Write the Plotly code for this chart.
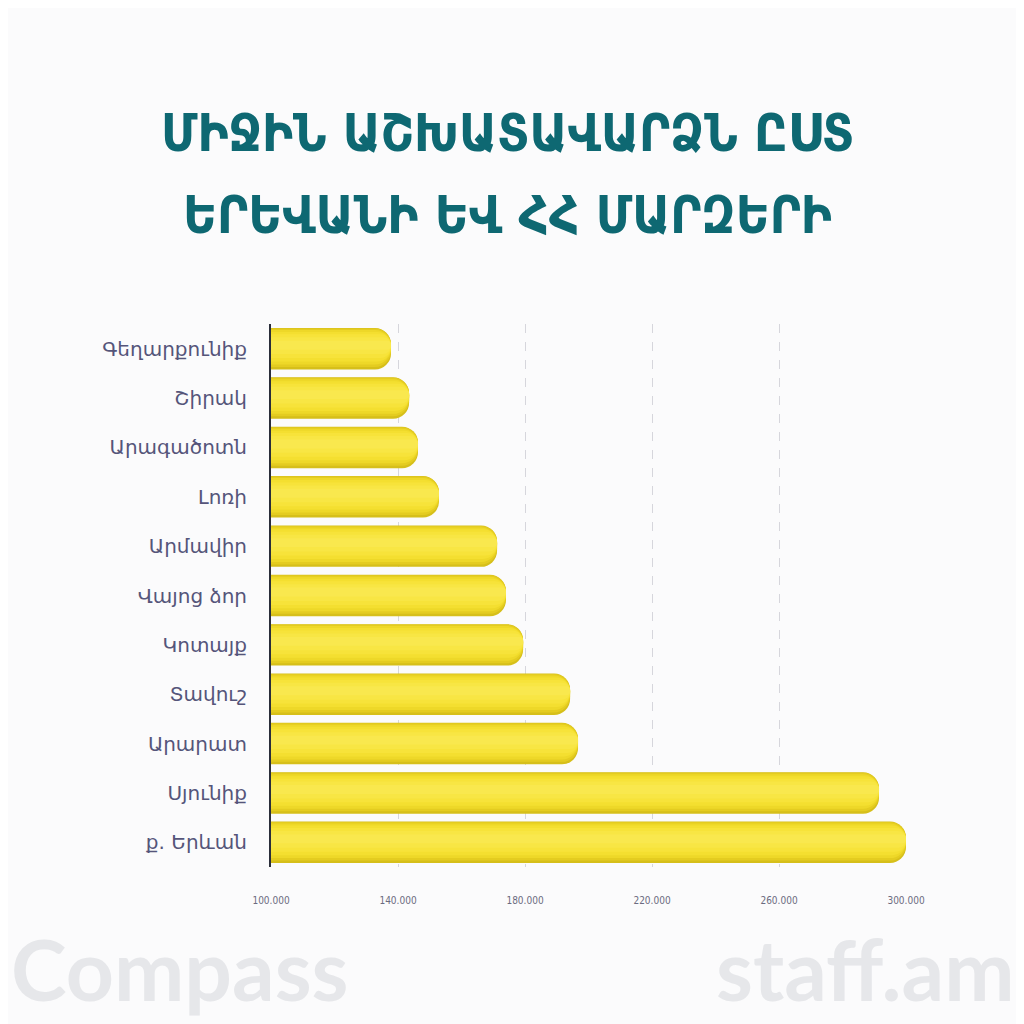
import plotly.graph_objects as go

# Data (top to bottom as shown)
regions = ["Գեղարքունիք", "Շիրակ", "Արագածոտն", "Լոռի", "Արմավիր", "Վայոց ձոր",
           "Կոտայք", "Տավուշ", "Արարատ", "Սյունիք", "ք. Երևան"]
salary = [137800, 143500, 146300, 152900, 171200, 174000, 179400, 194200, 196700, 291500, 300000]
tick_vals = [100000, 140000, 180000, 220000, 260000, 300000]
tick_text = ["100.000", "140.000", "180.000", "220.000", "260.000", "300.000"]
title_lines = ["ՄԻՋԻՆ ԱՇԽԱՏԱՎԱՐՁՆ ԸՍՏ", "ԵՐԵՎԱՆԻ ԵՎ ՀՀ ՄԱՐԶԵՐԻ"]

fig = go.Figure()
# layered bars for a soft 3D shading (edge darker, centre lighter)
layers = [(0.84, "#D6BF1A", 0.0), (0.78, "#E4CC20", 0.02), (0.70, "#EED828", 0.03),
          (0.60, "#F4DF30", 0.04), (0.48, "#F7E33A", 0.05), (0.34, "#F8E644", 0.06),
          (0.18, "#F9E84E", 0.07)]
for w, c, up in layers:
    fig.add_trace(go.Bar(
        y=regions, x=salary, orientation="h", base=0,
        width=w, offset=-w / 2 - up,
        marker=dict(color=c, cornerradius=16, line=dict(width=0)),
        hoverinfo="x+y", showlegend=False,
    ))

fig.update_layout(
    width=1024, height=1024,
    barmode="overlay",
    paper_bgcolor="#FBFBFC", plot_bgcolor="#FBFBFC",
    margin=dict(l=263, r=126, t=316, b=165),
    xaxis=dict(range=[100000, 300000], tickvals=tick_vals, ticktext=tick_text,
               showgrid=True, gridcolor="#D6D6DC", griddash="dash", gridwidth=1,
               zeroline=False, showline=False, ticks="",
               tickfont=dict(family="DejaVu Sans Condensed", size=10, color="#6B6B80"),
               ticklabelstandoff=26),
    yaxis=dict(autorange="reversed", showline=True, linecolor="#2A2E3A", linewidth=2,
               showgrid=False, zeroline=False, ticks="",
               tickfont=dict(family="DejaVu Sans", size=20, color="#55557A"),
               ticklabelstandoff=18),
    font=dict(family="DejaVu Sans"),
)

# Title
for line, y in zip(title_lines, [1.352, 1.201]):
    fig.add_annotation(text=f"<b>{line}</b>", xref="paper", yref="paper", x=0.372, y=y,
                       xanchor="center", yanchor="middle", showarrow=False,
                       font=dict(family="DejaVu Sans Condensed", size=52, color="#0E6872"))

# Watermarks
fig.add_annotation(text="<b>Compass</b>", xref="paper", yref="paper", x=-0.412, y=-0.284,
                   xanchor="left", yanchor="bottom", showarrow=False,
                   font=dict(family="Lato", size=84, color="#E6E7EA"))
fig.add_annotation(text="<b>staff.am</b>", xref="paper", yref="paper", x=1.175, y=-0.284,
                   xanchor="right", yanchor="bottom", showarrow=False,
                   font=dict(family="Lato", size=84, color="#E6E7EA"))

fig.write_html("out.html")
